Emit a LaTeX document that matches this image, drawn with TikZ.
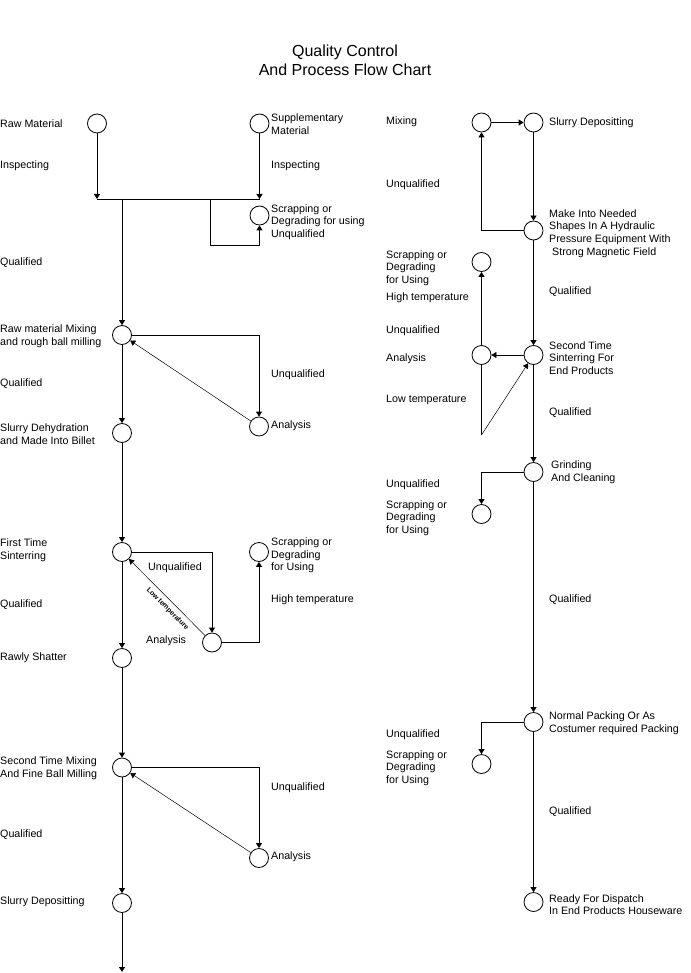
\documentclass[tikz,border=0pt]{standalone}
\usepackage{fontspec}
\setmainfont{Liberation Sans}
\usetikzlibrary{arrows.meta}
\begin{document}
\begin{tikzpicture}[x=1pt,y=-1pt,
  dot/.style={circle,draw,line width=0.8pt,minimum size=19pt,inner sep=0pt},
  lbl/.style={anchor=west,align=left,inner sep=0pt,font=\fontsize{10.7}{12.6}\selectfont},
  ttl/.style={align=center,inner sep=0pt,font=\fontsize{16}{19}\selectfont},
  conn/.style={line width=0.8pt},
  arr/.style={conn,-{Triangle[length=5pt,width=6pt]}},
  thinarr/.style={line width=0.5pt,-{Triangle[length=5pt,width=6pt]}}]
\path[use as bounding box] (0,0) rectangle (690,973);
\fill[white] (0,0) rectangle (690,973);
% title
\node[ttl] (title) at (345,60.5) {Quality Control\\And Process Flow Chart};
% left column circles
\node[dot] (raw) at (97,123.5) {};
\node[dot] (supp) at (259.5,123.5) {};
\node[dot] (scrap1) at (259.5,215.5) {};
\node[dot] (mix1) at (122,335) {};
\node[dot] (ana1) at (259,426.5) {};
\node[dot] (dehyd) at (122,433) {};
\node[dot] (sint1) at (122,552) {};
\node[dot] (scrap2) at (259,552) {};
\node[dot] (ana2) at (212,642.5) {};
\node[dot] (shat) at (122,658) {};
\node[dot] (mix2) at (122,767.5) {};
\node[dot] (ana3) at (259,858) {};
\node[dot] (sdep) at (122,903) {};
% right column circles
\node[dot] (rmix) at (481.5,122.5) {};
\node[dot] (rslurry) at (533.5,122.5) {};
\node[dot] (make) at (533.5,230.5) {};
\node[dot] (rscrap1) at (481.5,262) {};
\node[dot] (rana) at (481.5,355) {};
\node[dot] (sint2) at (533.5,355) {};
\node[dot] (grind) at (533.5,472) {};
\node[dot] (rscrap2) at (481.5,514) {};
\node[dot] (pack) at (533.5,722) {};
\node[dot] (rscrap3) at (481.5,764) {};
\node[dot] (ready) at (533.5,902) {};
% coordinates
\coordinate (bL) at (97,199);
\coordinate (bR) at (259.5,199);
\coordinate (bM) at (122,199);
\coordinate (bS) at (210,199);
\coordinate (bSd) at (210,245);
\coordinate (low) at (481.5,435);
\coordinate (endpt) at (122,972);
% left connectors
\draw[arr] (raw) -- (bL);
\draw[arr] (supp) -- (bR);
\draw[conn] (bL) -- (bR);
\draw[arr] (bM) -- (mix1);
\draw[arr] (bS) -- (bSd) -| (scrap1);
\draw[arr] (mix1.east) -| (ana1);
\draw[thinarr] (ana1) -- (mix1);
\draw[arr] (mix1) -- (dehyd);
\draw[arr] (dehyd) -- (sint1);
\draw[arr] (sint1.east) -| (ana2);
\draw[thinarr] (ana2) -- (sint1);
\draw[arr] (ana2.east) -| (scrap2);
\draw[arr] (sint1) -- (shat);
\draw[arr] (shat) -- (mix2);
\draw[arr] (mix2.east) -| (ana3);
\draw[thinarr] (ana3) -- (mix2);
\draw[arr] (mix2) -- (sdep);
\draw[arr] (sdep) -- (endpt);
% right connectors
\draw[arr] (rmix) -- (rslurry);
\draw[arr] (rslurry) -- (make);
\draw[arr] (make.west) -| (rmix);
\draw[arr] (make) -- (sint2);
\draw[arr] (sint2) -- (rana);
\draw[arr] (rana) -- (rscrap1);
\draw[conn] (rana) -- (low);
\draw[thinarr] (low) -- (sint2);
\draw[arr] (sint2) -- (grind);
\draw[arr] (grind.west) -| (rscrap2);
\draw[arr] (grind) -- (pack);
\draw[arr] (pack.west) -| (rscrap3);
\draw[arr] (pack) -- (ready);
% left labels
\node[lbl] (l1) at (0,124) {Raw Material};
\node[lbl] (l2) at (0,166) {Inspecting};
\node[lbl] (l3) at (0,263) {Qualified};
\node[lbl] (l4) at (0,336.5) {Raw material Mixing\\and rough ball milling};
\node[lbl] (l5) at (0,384) {Qualified};
\node[lbl] (l6) at (0,434) {Slurry Dehydration\\and Made Into Billet};
\node[lbl] (l7) at (0,550.5) {First Time\\Sinterring};
\node[lbl] (l8) at (0,605) {Qualified};
\node[lbl] (l9) at (0,658) {Rawly Shatter};
\node[lbl] (l10) at (0,768.5) {Second Time Mixing\\And Fine Ball Milling};
\node[lbl] (l11) at (0,835) {Qualified};
\node[lbl] (l12) at (0,902) {Slurry Depositting};
% middle labels
\node[lbl] (m1) at (271,124) {Supplementary\\Material};
\node[lbl] (m2) at (271,166) {Inspecting};
\node[lbl] (m3) at (271,222) {Scrapping or\\Degrading for using\\Unqualified};
\node[lbl] (m4) at (271,375) {Unqualified};
\node[lbl] (m5) at (271,426) {Analysis};
\node[lbl] (m6) at (148,568) {Unqualified};
\node[lbl] (m7) at (271,555.5) {Scrapping or\\Degrading\\for Using};
\node[lbl] (m8) at (271,600) {High temperature};
\node[lbl] (m9) at (146,641) {Analysis};
\node[lbl] (m10) at (271,788) {Unqualified};
\node[lbl] (m11) at (271,857) {Analysis};
\node[inner sep=0pt,rotate=-45,font=\bfseries\fontsize{7}{8}\selectfont] (m12) at (167.5,609) {Low temperature};
% right labels
\node[lbl] (r1) at (386,122) {Mixing};
\node[lbl] (r2) at (549,123) {Slurry Depositting};
\node[lbl] (r3) at (386,185) {Unqualified};
\node[lbl] (r4) at (549,233.5) {Make Into Needed\\Shapes In A Hydraulic\\Pressure Equipment With\\\ Strong Magnetic Field};
\node[lbl] (r5) at (386,268) {Scrapping or\\Degrading\\for Using};
\node[lbl] (r6) at (386,298) {High temperature};
\node[lbl] (r7) at (549,292) {Qualified};
\node[lbl] (r8) at (386,331) {Unqualified};
\node[lbl] (r9) at (386,359) {Analysis};
\node[lbl] (r10) at (549,358) {Second Time\\Sinterring For\\End Products};
\node[lbl] (r11) at (386,400) {Low temperature};
\node[lbl] (r12) at (549,413) {Qualified};
\node[lbl] (r13) at (551,472) {Grinding\\And Cleaning};
\node[lbl] (r14) at (386,485) {Unqualified};
\node[lbl] (r15) at (386,518) {Scrapping or\\Degrading\\for Using};
\node[lbl] (r16) at (549,600) {Qualified};
\node[lbl] (r17) at (549,723) {Normal Packing Or As\\Costumer required Packing};
\node[lbl] (r18) at (386,735) {Unqualified};
\node[lbl] (r19) at (386,768) {Scrapping or\\Degrading\\for Using};
\node[lbl] (r20) at (549,812) {Qualified};
\node[lbl] (r21) at (549,904.5) {Ready For Dispatch\\In End Products Houseware};
\end{tikzpicture}
\end{document}
